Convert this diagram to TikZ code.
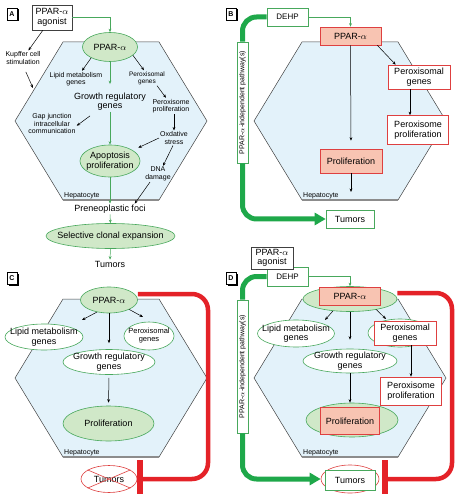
\documentclass[tikz,border=0pt]{standalone}
\usepackage{fontspec}
\setmainfont{Liberation Sans}
\usetikzlibrary{shapes.geometric,arrows.meta}

\definecolor{cellblue}{RGB}{227,242,250}
\definecolor{leafgreen}{RGB}{208,232,200}
\definecolor{leafline}{RGB}{72,168,92}
\definecolor{thickgreen}{RGB}{30,168,74}
\definecolor{salmon}{RGB}{248,196,178}
\definecolor{boxred}{RGB}{222,64,64}
\definecolor{thickred}{RGB}{228,34,40}

\tikzset{
	cellwall/.style={draw=black!75, fill=cellblue, line width=0.5pt},
	cellname/.style={anchor=west, inner sep=0pt, font=\fontsize{7}{7}\selectfont},
	panelbox/.style={draw=black, fill=white, line width=0.6pt, minimum width=10pt, minimum height=12pt, inner sep=0pt, font=\fontsize{7}{7}\selectfont\bfseries},
	leaf/.style={ellipse, draw=leafline, fill=leafgreen, line width=0.6pt, inner sep=0pt},
	hollowleaf/.style={leaf, fill=white},
	crossleaf/.style={ellipse, draw=boxred, fill=white, line width=0.6pt, inner sep=0pt},
	ellipsetext/.style={label={[inner sep=0pt, align=center, font=\fontsize{9}{9.5}\selectfont]center:#1}},
	smallellipsetext/.style={label={[inner sep=0pt, align=center, font=\fontsize{7.5}{8}\selectfont]center:#1}},
	redbox/.style={draw=boxred, fill=salmon, line width=0.6pt, inner sep=0pt, align=center, font=\fontsize{9}{9.5}\selectfont},
	whitebox/.style={redbox, fill=white},
	greenbox/.style={redbox, draw=leafline, fill=white},
	agonistbox/.style={redbox, draw=black!75, fill=white},
	pathbox/.style={draw=leafline, fill=white, line width=0.6pt, rotate=90, inner sep=0pt, font=\fontsize{7}{7}\selectfont},
	note/.style={inner sep=1pt, align=center, font=\fontsize{7}{7.5}\selectfont},
	bignote/.style={inner sep=1pt, align=center, font=\fontsize{9}{9}\selectfont},
	arr/.style={-{Stealth[length=3.5pt,width=2.8pt]}, line width=0.5pt, black},
	garr/.style={arr, leafline},
	greenroute/.style={draw=thickgreen, line width=5pt, rounded corners=14pt},
	redroute/.style={draw=thickred, line width=4.5pt, rounded corners=16pt}
}

% hexagonal hepatocyte, centre x and top edge y
\def\hepcell(#1,#2)#3{
	\draw[cellwall] (#1-48,#2) -- (#1+48,#2) -- (#1+96,#2+79) -- (#1+48,#2+158) -- (#1-48,#2+158) -- (#1-96,#2+79) -- cycle;
	\draw[line width=1.2pt, black!45] (#1-48,#2+158) -- (#1+48,#2+158);
	\node[cellname] (#3) at (#1-47,#2+154) {Hepatocyte};
}
% panel letter with shadow
\def\panel(#1,#2)#3{
	\fill (#1-3.5,#2-4.5) rectangle (#1+6.5,#2+7.5);
	\node[panelbox] (panel#3) at (#1,#2) {#3};
}

\begin{document}
\begin{tikzpicture}[x=1pt, y=-1pt]
			%%%%% START %%%%%
			\useasboundingbox (0,0) rectangle (461,502);
			
			%%%%% A %%%%%
			\panel(12,14){A}
			\hepcell(111,42){hepA}
			
			\node[agonistbox, minimum width=40pt, minimum height=25pt] (agA) at (52,17.5) {PPAR-$\alpha$\\agonist};
			\node[leaf, minimum width=55pt, minimum height=29pt, ellipsetext={PPAR-$\alpha$}] (pparA) at (110,47) {};
			\node[note] (kupA) at (23,58) {Kupffer cell\\stimulation};
			\node[note] (lipA) at (76,79) {Lipid metabolism\\genes};
			\node[note, font=\fontsize{6.5}{7}\selectfont] (perA) at (147,78) {Peroxisomal\\genes};
			\node[bignote] (grA) at (110,102) {Growth regulatory\\genes};
			\node[note] (proxA) at (171,106) {Peroxisome\\proliferation};
			\node[note] (gapA) at (52,124) {Gap junction\\intracellular\\communication};
			\node[note] (oxA) at (174,138) {Oxdative\\stress};
			\node[leaf, minimum width=60pt, minimum height=32pt, ellipsetext={Apoptosis\\proliferation}] (apoA) at (110,161) {};
			\node[note] (dnaA) at (158,174) {DNA\\damage};
			\node[bignote] (fociA) at (110,209) {Preneoplastic foci};
			\node[leaf, minimum width=129pt, minimum height=25pt, ellipsetext={Selective clonal expansion}] (selA) at (110.5,236) {};
			\node[bignote] (tumA) at (110,264) {Tumors};
			
			\coordinate (kupT) at (33,88);
			\draw[garr] (agA.east) -| (pparA.north);
			\draw[arr] (agA) -- (kupA);
			\draw[arr, shorten <=7pt] (kupA.south) -- (kupT);
			\draw[arr] (pparA.-150) -- ([xshift=6pt]lipA.north);
			\draw[arr] (pparA.-20) -- ([xshift=-3pt]perA.north);
			\draw[garr, shorten >=8pt] (pparA.south) -- (grA.north);
			\draw[arr] ([xshift=10pt]perA.south) -- ([xshift=-5pt]proxA.north);
			\draw[arr] ([xshift=-20pt,yshift=-4pt]grA.south) -- ([yshift=-13pt]gapA.north east);
			\draw[garr] (grA.south) -- (apoA.north);
			\draw[arr] ([xshift=3pt]proxA.south) -- (oxA.north);
			\draw[arr, shorten >=6pt] (oxA.west) -- (apoA);
			\draw[arr] ([xshift=-1pt]oxA.south) -- ([xshift=5pt]dnaA.north);
			\draw[arr] ([xshift=-8pt]dnaA.south) -- ([xshift=-12pt]fociA.north east);
			\draw[garr] (apoA.south) -- (fociA.north);
			\draw[garr] (fociA.south) -- (selA.north);
			\draw[garr] (selA.south) -- (tumA.north);
			
			%%%%% B %%%%%
			\panel(231,14){B}
			\hepcell(350,42){hepB}
			
			\node[greenbox, minimum width=41pt, minimum height=18pt, font=\fontsize{8}{8}\selectfont] (dehpB) at (287.5,17) {DEHP};
			\node[redbox, minimum width=61pt, minimum height=18pt] (pparB) at (350.5,36) {PPAR-$\alpha$};
			\node[whitebox, minimum width=62pt, minimum height=24pt] (perB) at (419,77) {Peroxisomal\\genes};
			\node[whitebox, minimum width=61pt, minimum height=29pt] (proxB) at (418,130) {Peroxisome\\proliferation};
			\node[redbox, minimum width=62pt, minimum height=24pt] (prolB) at (351,161) {Proliferation};
			\node[greenbox, minimum width=48pt, minimum height=18pt] (tumB) at (350,219) {Tumors};
			\node[pathbox, minimum width=121pt, minimum height=11pt] (indB) at (242.5,102.5) {PPAR-$\alpha$-independent pathway(s)};
			\coordinate (cellB) at (351,192);
			
			\draw[garr] (dehpB.east) -| (pparB.north);
			\draw[arr, shorten >=8pt] (pparB.south) -- (prolB.north);
			\draw[arr] ([xshift=-4pt]pparB.south east) -- ([xshift=8pt]perB.north west);
			\draw[arr] ([xshift=-9pt]perB.south) -- ([xshift=-8pt]proxB.north);
			\draw[arr] (prolB.south) -- (cellB);
			\draw[greenroute] (dehpB.west) -| (indB.east);
			\draw[greenroute, -{Triangle[length=11pt,width=12pt]}] (indB.west) |- (tumB.west);
			
			%%%%% C %%%%%
			\panel(12,278){C}
			\hepcell(111,299){hepC}
			
			\node[leaf, minimum width=57pt, minimum height=26pt, ellipsetext={PPAR-$\alpha$}] (pparC) at (109,300) {};
			\node[hollowleaf, minimum width=78pt, minimum height=26pt, ellipsetext={Lipid metabolism\\genes}] (lipC) at (44,337) {};
			\node[hollowleaf, minimum width=50pt, minimum height=28pt, smallellipsetext={Peroxisomal\\genes}] (perC) at (149,336) {};
			\node[hollowleaf, minimum width=92pt, minimum height=25pt, ellipsetext={Growth regulatory\\genes}] (grC) at (109,362) {};
			\node[leaf, minimum width=91pt, minimum height=35pt, ellipsetext={Proliferation}] (prolC) at (108.5,423.5) {};
			\node[crossleaf, minimum width=56pt, minimum height=27pt, ellipsetext={Tumors}] (tumC) at (109,479) {};
			\draw[boxred, line width=0.6pt] (tumC.157) -- (tumC.-23) (tumC.23) -- (tumC.-157);
			
			\coordinate (lipCtip) at (82,320);
			\coordinate (perCtip) at (143,317);
			\coordinate (turnC) at (208,479);
			\coordinate (barC) at (140,479);
			\draw[arr] (pparC.-135) -- (lipCtip);
			\draw[arr, shorten >=6pt] (pparC.south) -- (grC.north);
			\draw[arr] (pparC.-25) -- (perCtip);
			\draw[arr, shorten <=3pt, shorten >=3pt] (grC.south) -- (prolC.north);
			\draw[redroute] ([yshift=6pt]pparC.east) -| (turnC) -- (barC);
			\fill[thickred] (137,460) rectangle (143,494);
			
			%%%%% D %%%%%
			\panel(231,278){D}
			\hepcell(350,299){hepD}
			
			\node[greenbox, minimum width=41pt, minimum height=19pt, font=\fontsize{8}{8}\selectfont] (dehpD) at (287.5,276.5) {DEHP};
			\node[agonistbox, minimum width=42pt, minimum height=22pt] (agD) at (272,258) {PPAR-$\alpha$\\agonist};
			\node[leaf, minimum width=94pt, minimum height=25pt] (pparDe) at (350,299) {};
			\node[redbox, minimum width=61pt, minimum height=18pt] (pparD) at (350,296) {PPAR-$\alpha$};
			\node[hollowleaf, minimum width=77pt, minimum height=27pt, ellipsetext={Lipid metabolism\\genes}] (lipD) at (296,333.5) {};
			\node[hollowleaf, minimum width=64pt, minimum height=28pt] (perDe) at (400,333) {};
			\node[whitebox, minimum width=62pt, minimum height=24pt] (perD) at (405,333) {Peroxisomal\\genes};
			\node[hollowleaf, minimum width=94pt, minimum height=24pt, ellipsetext={Growth regulatory\\genes}] (grD) at (350,361) {};
			\node[whitebox, minimum width=61pt, minimum height=28pt] (proxD) at (411,391) {Peroxisome\\proliferation};
			\node[leaf, minimum width=92pt, minimum height=34pt] (prolDe) at (352,420) {};
			\node[redbox, minimum width=59pt, minimum height=27pt] (prolD) at (350,421) {Proliferation};
			\node[crossleaf, minimum width=58pt, minimum height=28pt] (tumDe) at (350,479) {};
			\node[greenbox, minimum width=50pt, minimum height=20pt] (tumD) at (350,480) {Tumors};
			\node[pathbox, minimum width=133pt, minimum height=11pt] (indD) at (242.5,366.5) {PPAR-$\alpha$-independent pathway(s)};
			
			\coordinate (lipDtip) at (325,320);
			\coordinate (perDtip) at (386,319);
			\coordinate (turnD) at (452,479);
			\coordinate (barD) at (385,479);
			\draw[garr] (dehpD.east) -| (pparDe.north);
			\draw[arr] (pparDe.-145) -- (lipDtip);
			\draw[arr, shorten >=9pt] (pparDe.south) -- (grD.north);
			\draw[arr] (pparDe.-22) -- (perDtip);
			\draw[arr] (perD.south -| proxD.north) -- (proxD.north);
			\draw[arr] (grD.south) -- (grD.south |- prolDe.north);
			\draw[redroute] ([yshift=6pt]pparDe.east) -| (turnD) -- (barD);
			\fill[thickred] (382,460) rectangle (388,494);
			\draw[greenroute] (dehpD.west) -| (indD.east);
			\draw[greenroute, -{Triangle[length=11pt,width=12pt]}] (indD.west) |- (tumDe.west);
			
			%%%%% END %%%%%
\end{tikzpicture}
\end{document}
